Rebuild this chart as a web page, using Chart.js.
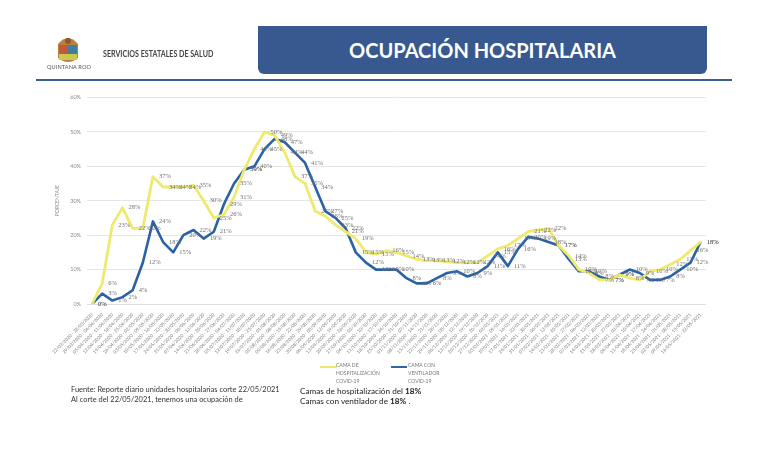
<!DOCTYPE html>
<html>
<head>
<meta charset="utf-8">
<script src="https://cdn.jsdelivr.net/npm/chart.js@4"></script>
<style>
  html, body { margin: 0; padding: 0; background: #fff; }
  #page { position: relative; width: 768px; height: 469px; overflow: hidden; font-family: Lato, sans-serif; filter: blur(0.4px); }
  #myChart { position: absolute; left: 0; top: 0; }
  #page div { position: absolute; white-space: nowrap; }
  #banner { left: 258px; top: 26px; width: 449px; height: 48px; background: #38598f; border-radius: 0 0 6px 6px;
    color: #fff; font-weight: 700; font-size: 20px; line-height: 49px; text-align: center; }
  #rule { left: 36px; top: 79px; width: 696px; height: 2px; background: #3d5c94; }
  #org { left: 103px; top: 48px; font-size: 8.7px; font-weight: 700; color: #444; line-height: 12px; transform: scaleX(.82); transform-origin: left center; }
  #logotext { left: 47px; top: 63px; font-size: 5.6px; color: #555; line-height: 7px; letter-spacing: .1px; }
  .swatch { height: 2px; top: 366px; }
  .legend { top: 361px; font-size: 5px; line-height: 8px; color: #777; white-space: pre !important; }
  .note { font-size: 7.45px; line-height: 9.2px; color: #333; }
  .stat { font-size: 8.2px; line-height: 10px; color: #222; }
</style>
</head>
<body>
<div id="page">
  <canvas id="myChart" width="768" height="469"></canvas>
  <svg id="logo" style="position:absolute;left:57px;top:36px" width="23" height="28" viewBox="0 0 23 28">
    <path d="M1 8 Q11 -4 21 8 L21 22 Q11 30 1 22 Z" fill="#b9813f"/>
    <rect x="2" y="9" width="9" height="9" fill="#c4573a"/>
    <rect x="11" y="9" width="9" height="9" fill="#3f7f9c"/>
    <rect x="2" y="18" width="18" height="6" fill="#c9c94f"/>
    <circle cx="11" cy="5" r="3" fill="#8a5a2c"/>
  </svg>
  <div id="logotext">QUINTANA ROO</div>
  <div id="org">SERVICIOS ESTATALES DE SALUD</div>
  <div id="banner">OCUPACIÓN HOSPITALARIA</div>
  <div id="rule"></div>
  <div class="swatch" style="left:320px;width:17px;background:#eeea6e"></div>
  <div class="legend" style="left:336px">CAMA DE
HOSPITALIZACIÓN
COVID-19</div>
  <div class="swatch" style="left:391px;width:16px;background:#2f66a6"></div>
  <div class="legend" style="left:408px">CAMA CON
VENTILADOR
COVID-19</div>
  <div class="note" style="left:71px;top:385px">Fuente: Reporte diario unidades hospitalarias corte 22/05/2021</div>
  <div class="note" style="left:71px;top:395px">Al corte del 22/05/2021, tenemos una ocupación de</div>
  <div class="stat" style="left:300px;top:386px">Camas de hospitalización del <b>18%</b></div>
  <div class="stat" style="left:300px;top:396px">Camas con ventilador de <b>18%</b> .</div>
</div>
<script>
const weeks = [
  "22/03/2020 - 28/03/2020", "29/03/2020 - 04/04/2020", "05/04/2020 - 11/04/2020", "12/04/2020 - 18/04/2020",
  "19/04/2020 - 25/04/2020", "26/04/2020 - 02/05/2020", "03/05/2020 - 09/05/2020", "10/05/2020 - 16/05/2020",
  "17/05/2020 - 23/05/2020", "24/05/2020 - 30/05/2020", "31/05/2020 - 06/06/2020", "07/06/2020 - 13/06/2020",
  "14/06/2020 - 20/06/2020", "21/06/2020 - 27/06/2020", "28/06/2020 - 04/07/2020", "05/07/2020 - 11/07/2020",
  "12/07/2020 - 18/07/2020", "19/07/2020 - 25/07/2020", "26/07/2020 - 01/08/2020", "02/08/2020 - 08/08/2020",
  "09/08/2020 - 15/08/2020", "16/08/2020 - 22/08/2020", "23/08/2020 - 29/08/2020", "30/08/2020 - 05/09/2020",
  "06/09/2020 - 12/09/2020", "13/09/2020 - 19/09/2020", "20/09/2020 - 26/09/2020", "27/09/2020 - 03/10/2020",
  "04/10/2020 - 10/10/2020", "11/10/2020 - 17/10/2020", "18/10/2020 - 24/10/2020", "25/10/2020 - 31/10/2020",
  "01/11/2020 - 07/11/2020", "08/11/2020 - 14/11/2020", "15/11/2020 - 21/11/2020", "22/11/2020 - 28/11/2020",
  "29/11/2020 - 05/12/2020", "06/12/2020 - 12/12/2020", "13/12/2020 - 19/12/2020", "20/12/2020 - 26/12/2020",
  "27/12/2020 - 02/01/2021", "03/01/2021 - 09/01/2021", "10/01/2021 - 16/01/2021", "17/01/2021 - 23/01/2021",
  "24/01/2021 - 30/01/2021", "31/01/2021 - 06/02/2021", "07/02/2021 - 13/02/2021", "14/02/2021 - 20/02/2021",
  "21/02/2021 - 27/02/2021", "28/02/2021 - 06/03/2021", "07/03/2021 - 13/03/2021", "14/03/2021 - 20/03/2021",
  "21/03/2021 - 27/03/2021", "28/03/2021 - 03/04/2021", "04/04/2021 - 10/04/2021", "11/04/2021 - 17/04/2021",
  "18/04/2021 - 24/04/2021", "25/04/2021 - 01/05/2021", "02/05/2021 - 08/05/2021", "09/05/2021 - 15/05/2021",
  "16/05/2021 - 22/05/2021"
];

const hospBeds = [
  0, 6, 23, 28, 22, 22, 37, 34, 34, 34, 34.5, 30, 25, 26, 31, 39,
  45, 50, 49, 44, 37, 35, 27, 25.5, 23, 21, 19, 15, 14.5, 15.5, 15, 14,
  13, 12.6, 12.6, 12.3, 12, 12, 12, 14, 16, 17, 19, 21, 21.5, 22,
  17, 14, 10, 9, 7, 7, 8.5, 7.5, 7, 9.5, 10, 11.5, 13, 15.5, 18
];

const ventBeds = [
  0, 3, 1, 2, 4, 12, 24, 18, 15, 20, 21.5, 19, 21, 29, 35, 39,
  40, 45, 48, 47, 44, 41, 34, 27, 25, 22, 15, 12, 10, 10, 10, 7.5,
  6, 6, 7.5, 9, 9.5, 8, 9, 11, 15, 11, 16, 19.5, 19, 18,
  17, 13, 9.5, 9.5, 8, 7, 8.5, 10, 9, 7, 7, 8, 10, 12, 18
];

const yTicks = [0, 10, 20, 30, 40, 50, 60];

/* Percent labels to the right of each point. */
const pointLabels = {
  id: "pointLabels",
  afterDatasetsDraw(chart) {
    const ctx = chart.ctx;
    ctx.save();
    ctx.font = "6.5px 'Liberation Serif'";
    ctx.fillStyle = "#707070";
    ctx.textBaseline = "middle";
    chart.data.datasets.forEach((ds, d) => {
      chart.getDatasetMeta(d).data.forEach((pt, i) => {
        ctx.fillText(Math.round(ds.data[i]) + "%", pt.x + 6, pt.y);
      });
    });
    ctx.restore();
  }
};

new Chart(document.getElementById("myChart"), {
  type: "line",
  data: {
    labels: weeks,
    datasets: [
      { label: "CAMA DE HOSPITALIZACIÓN COVID-19", data: hospBeds, borderColor: "#eeea6e", borderWidth: 2.8, pointRadius: 0, borderJoinStyle: "round" },
      { label: "CAMA CON VENTILADOR COVID-19", data: ventBeds, borderColor: "#2a62a4", borderWidth: 2.6, pointRadius: 0, borderJoinStyle: "round" }
    ]
  },
  plugins: [pointLabels],
  options: {
    responsive: false,
    animation: false,
    layout: { padding: { left: 54, right: 62.3, top: 97.5, bottom: 115 } },
    plugins: { legend: { display: false }, tooltip: { enabled: false } },
    scales: {
      x: {
        offset: true,
        grid: { display: false },
        border: { color: "#dddddd" },
        afterFit(scale) { scale.height = 50; },
        ticks: { autoSkip: false, minRotation: 45, maxRotation: 45, padding: 0, color: "#7a7a7a", font: { size: 4.6, family: "Lato" } }
      },
      y: {
        min: 0,
        max: 60,
        afterFit(scale) { scale.width = 33; },
        afterBuildTicks(scale) { scale.ticks = yTicks.map((v) => ({ value: v })); },
        grid: { color: "#e6e6e6", drawTicks: false },
        border: { display: false },
        title: { display: true, text: "PORCENTAJE", color: "#8a8a8a", font: { size: 5, family: "Lato" }, padding: 0 },
        ticks: { padding: 6, color: "#8a8a8a", font: { size: 5.5, family: "Lato" }, callback: (v) => v + "%" }
      }
    }
  }
});
</script>
</body>
</html>
